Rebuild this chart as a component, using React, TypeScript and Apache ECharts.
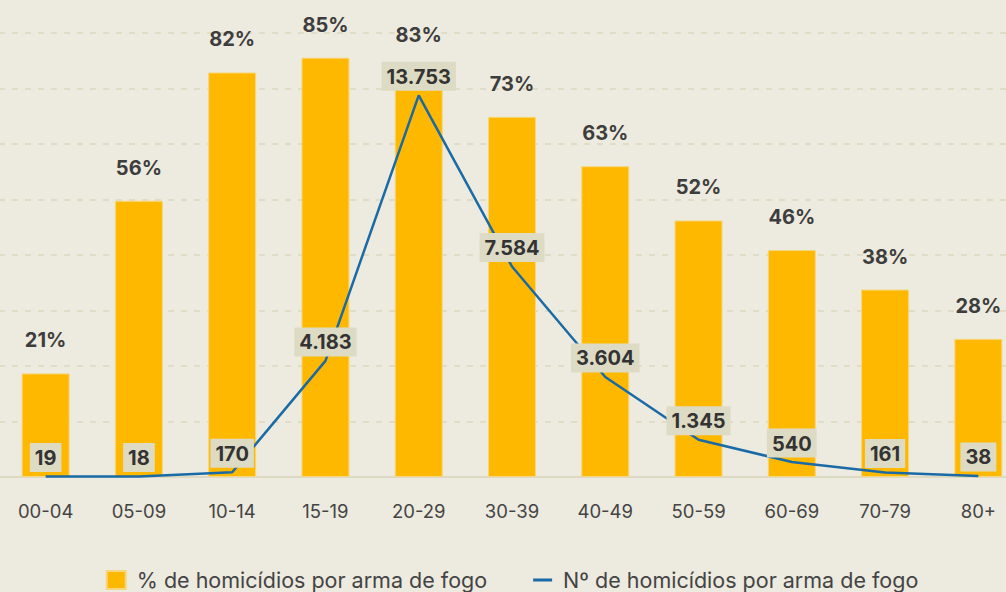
import React, { useEffect, useRef } from "react";
import * as echarts from "echarts";

const categories = ["00-04", "05-09", "10-14", "15-19", "20-29", "30-39", "40-49", "50-59", "60-69", "70-79", "80+"];
const pctValues = [21, 56, 82, 85, 83, 73, 63, 52, 46, 38, 28];
const countValues = [19, 18, 170, 4183, 13753, 7584, 3604, 1345, 540, 161, 38];
const pctName = "% de homicídios por arma de fogo";
const countName = "Nº de homicídios por arma de fogo";

const fmt = (v: number) => String(v).replace(/\B(?=(\d{3})+(?!\d))/g, ".");

export default function App() {
  const ref = useRef<HTMLDivElement>(null);
  useEffect(() => {
    if (!ref.current) return;
    const chart = echarts.init(ref.current, undefined, { renderer: "svg" });
    const font = "Inter, 'Noto Sans', sans-serif";
    const lineColor = "#1a6aa6";
    chart.setOption({
      animation: false,
      backgroundColor: "#edeadf",
      textStyle: { fontFamily: font },
      grid: { left: 0, right: 0, top: 33, bottom: 115, containLabel: false },
      legend: {
        top: 564,
        left: "center",
        itemWidth: 19,
        itemHeight: 18,
        itemGap: 46,
        textStyle: { fontFamily: font, fontSize: 21.5, color: "#444", padding: [0, 0, 0, 6] },
        data: [
          { name: pctName, icon: "rect" },
          { name: countName, icon: "path://M0,0 L19,0 L19,3 L0,3 Z", itemStyle: { color: lineColor, opacity: 1 } },
        ],
      },
      xAxis: {
        type: "category",
        data: categories,
        axisTick: { show: false },
        axisLine: { lineStyle: { color: "#ddd9c2", width: 2 } },
        axisLabel: { fontFamily: font, fontSize: 18.5, color: "#444", margin: 24 },
      },
      yAxis: [
        {
          type: "value",
          min: 0,
          max: 90,
          show: false,
          splitLine: { show: false },
        },
        {
          type: "value",
          min: 0,
          max: 16000,
          interval: 2000,
          axisLabel: { show: false },
          axisLine: { show: false },
          axisTick: { show: false },
          splitLine: { show: true, lineStyle: { color: "#e0dcc5", width: 2, type: [6, 7] } },
        },
      ],
      series: [
        {
          name: pctName,
          type: "bar",
          yAxisIndex: 0,
          data: pctValues,
          barWidth: 48,
          itemStyle: { color: "#ffb800", borderColor: "#f6d77e", borderWidth: 1 },
          label: {
            show: true,
            position: "top",
            distance: 23,
            formatter: (p: any) => p.value + "%",
            fontFamily: font,
            fontSize: 20,
            fontWeight: "bold",
            color: "#3d3d3d",
          },
          z: 2,
        },
        {
          name: countName,
          type: "line",
          yAxisIndex: 1,
          data: countValues,
          symbol: "circle",
          symbolSize: 1,
          showSymbol: true,
          lineStyle: { color: lineColor, width: 2.5 },
          itemStyle: { color: "rgba(0,0,0,0)", borderWidth: 0 },
          label: {
            show: true,
            position: "top",
            distance: 4,
            formatter: (p: any) => fmt(p.value),
            fontFamily: font,
            fontSize: 20,
            fontWeight: "bold",
            color: "#333",
            backgroundColor: "#dedbc5",
            padding: [5, 5, 4, 5],
          },
          z: 3,
        },
      ],
    });
    return () => chart.dispose();
  }, []);
  return (
    <div style={{ position: "fixed", left: 0, top: 0, width: 1006, height: 592, overflow: "hidden" }}>
      <div ref={ref} style={{ position: "absolute", left: -1, top: 0, width: 1026, height: 592 }} />
    </div>
  );
}
